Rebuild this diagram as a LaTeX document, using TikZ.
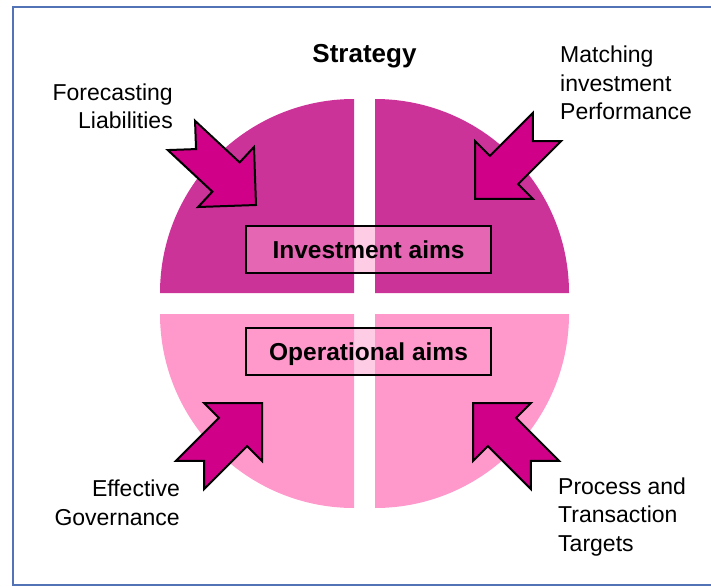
\documentclass[tikz,border=0pt]{standalone}
\usepackage{fontspec}
\setmainfont{Liberation Sans}
\usepackage{xcolor}
\usepackage{tikz}

\definecolor{frameblue}{HTML}{5274B6}
\definecolor{investpink}{HTML}{CC3399}
\definecolor{operpink}{HTML}{FF99CC}
\definecolor{arrowpink}{HTML}{D00088}

\tikzset{
  aimbox/.style={draw=black, line width=2pt, fill=operpink, fill opacity=0.5, text opacity=1,
    minimum width=245pt, minimum height=47pt, inner sep=0pt, text height=18pt, text depth=0pt,
    font=\fontsize{24.5}{29}\selectfont\bfseries},
  sidelabel/.style={inner sep=0pt, font=\fontsize{23}{28.5}\selectfont},
  aimarrow/.pic={
    \draw[line width=2pt, fill=arrowpink] (0,0) -- (-41,41) -- (-41,20) -- (-102,20) -- (-82,0)
      -- (-102,-20) -- (-41,-20) -- (-41,-41) -- cycle;
  }
}

\begin{document}
\begin{tikzpicture}[x=1pt,y=1pt]
\useasboundingbox (0,0) rectangle (711,587);
\draw[frameblue, line width=2pt] (711,580) -- (13,580) -- (13,2) -- (711,2);

\coordinate (tl) at (354,294);
\coordinate (tr) at (375,294);
\coordinate (bl) at (354,273);
\coordinate (br) at (375,273);

\fill[investpink] (tl) -- ++(-194,0) arc[start angle=180, end angle=90, radius=194pt] -- cycle;
\fill[investpink] (tr) -- ++(0,194) arc[start angle=90, end angle=0, radius=194pt] -- cycle;
\fill[operpink] (bl) -- ++(-194,0) arc[start angle=180, end angle=270, radius=194pt] -- cycle;
\fill[operpink] (br) -- ++(0,-194) arc[start angle=270, end angle=360, radius=194pt] -- cycle;

\pic[rotate=-43] at (256,382) {aimarrow};
\pic[rotate=-135] at (475,388) {aimarrow};
\pic[rotate=45] at (262,184) {aimarrow};
\pic[rotate=135] at (473,184) {aimarrow};

\node[aimbox] (invest) at (368.5,337.5) {Investment aims};
\node[aimbox] (oper) at (368.5,235.5) {Operational aims};

\node[font=\fontsize{26}{30}\selectfont\bfseries, anchor=base] (strategy) at (364.5,524) {Strategy};
\node[sidelabel, align=right, anchor=north east] (forecast) at (173,503.5) {Forecasting\\Liabilities};
\node[sidelabel, align=left, anchor=north west] (matching) at (560,541) {Matching\\investment\\Performance};
\node[sidelabel, align=right, anchor=north east] (governance) at (180,107) {Effective\\Governance};
\node[sidelabel, align=left, anchor=north west] (targets) at (558,109.5) {Process and\\Transaction\\Targets};
\end{tikzpicture}
\end{document}
